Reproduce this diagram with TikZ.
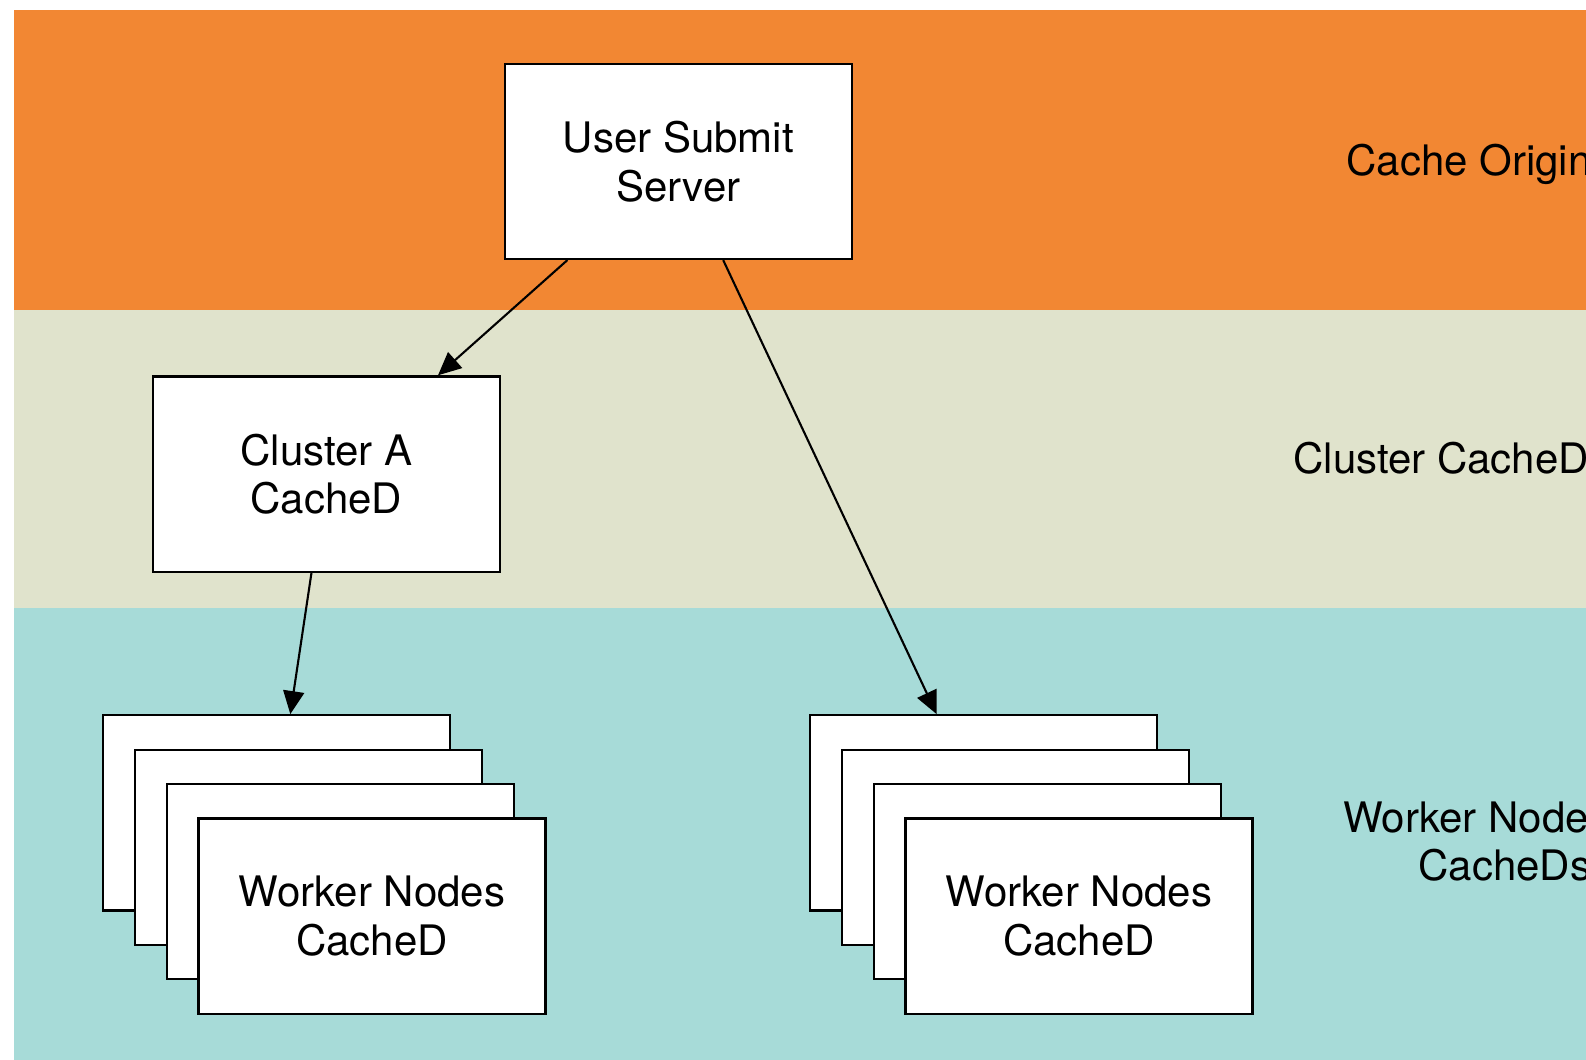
\documentclass[tikz,border=0pt]{standalone}
\usepackage{fontspec}
\setmainfont{TeX Gyre Heros}
\usetikzlibrary{arrows.meta,calc}

\definecolor{bandorigin}{RGB}{242,135,51}
\definecolor{bandcluster}{RGB}{224,227,204}
\definecolor{bandworker}{RGB}{167,219,216}

\newcommand{\diagfont}{\fontsize{21}{24.3}\selectfont}

\tikzset{
  box/.style={draw=black, line width=1.1pt, fill=white, anchor=north west,
    minimum width=173.5pt, minimum height=97.6pt, inner sep=0pt,
    align=center, font=\diagfont},
  arr/.style={-{Triangle[length=11.5pt,width=10.5pt]}, line width=1.05pt},
  tierlabel/.style={anchor=base west, inner sep=0pt, font=\diagfont},
}

\begin{document}
\begin{tikzpicture}[x=0.5pt, y=-0.5pt]
  \useasboundingbox (0,0) rectangle (1586,1060);

  % tier bands
  \fill[bandorigin]  (14,10)    rectangle (1586,309.5);
  \fill[bandcluster] (14,309.5) rectangle (1586,608);
  \fill[bandworker]  (14,608)   rectangle (1586,1060);

  % tier labels, running off the right edge
  \begin{scope}
    \clip (0,0) rectangle (1586,1060);
    \node[tierlabel] (lblorigin)  at (1346,175)   {Cache Origin};
    \node[tierlabel] (lblcluster) at (1293,473.3) {Cluster CacheD};
    \node[tierlabel] (lblworker1) at (1343,832.3) {Worker Nodes};
    \node[tierlabel] (lblworker2) at (1418,880)   {CacheDs};
  \end{scope}

  % servers
  \node[box] (uss) at (503.7,62.7)  {User Submit\\Server};
  \node[box] (ca)  at (151.7,375.3) {Cluster A\\CacheD};

  % left worker stack
  \node[box] (la1) at (102.2,714.1) {};
  \node[box] (la2) at (133.9,748.5) {};
  \node[box] (la3) at (165.6,782.9) {};
  \node[box] (la4) at (197.3,817.3) {Worker Nodes\\CacheD};

  % right worker stack
  \node[box] (rb1) at (809.2,714.1) {};
  \node[box] (rb2) at (840.9,748.5) {};
  \node[box] (rb3) at (872.6,782.9) {};
  \node[box] (rb4) at (904.3,817.3) {Worker Nodes\\CacheD};

  % connectors
  \draw[arr] ($(uss.south west)+(63.7,0)$)  -- ($(ca.north west)+(286.3,0)$);
  \draw[arr] ($(uss.south west)+(219.5,0)$) -- ($(rb1.north west)+(127.4,0)$);
  \draw[arr] ($(ca.south west)+(159.8,0)$)  -- ($(la1.north west)+(188.1,0)$);
\end{tikzpicture}
\end{document}
